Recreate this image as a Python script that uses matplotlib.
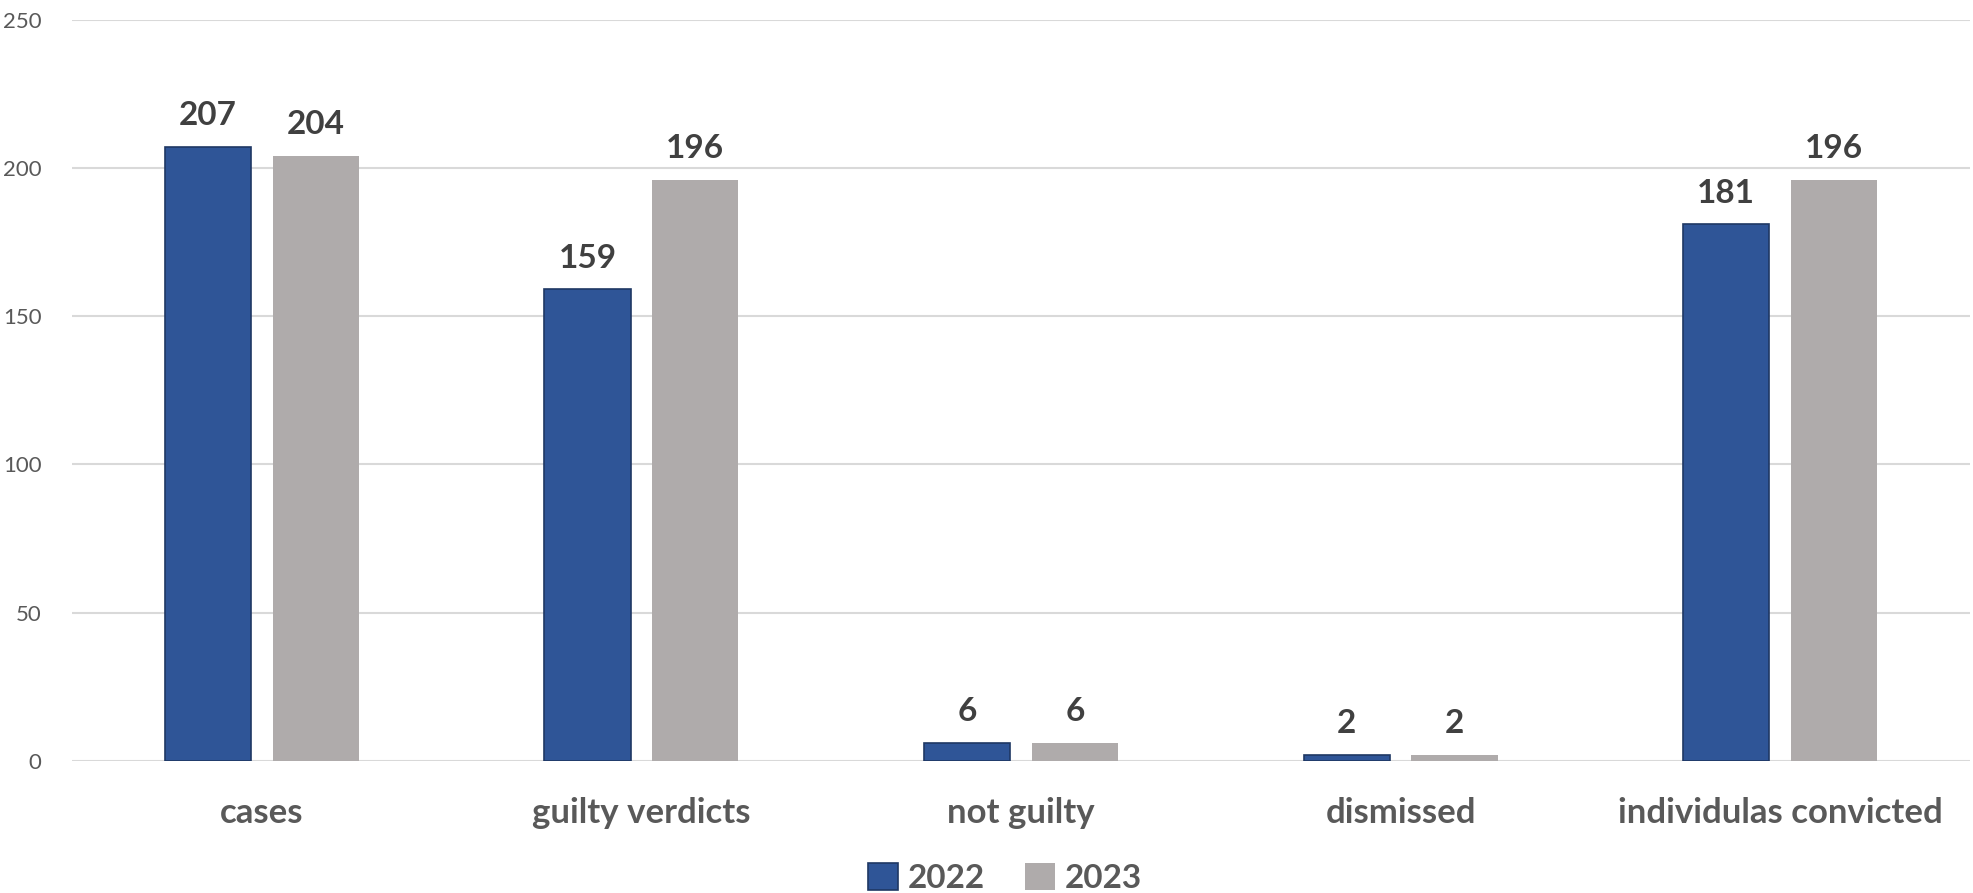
import matplotlib.pyplot as plt
import numpy as np

categories = ['cases', 'guilty verdicts', 'not guilty', 'dismissed', 'individulas convicted']
years = ['2022', '2023']
values_2022 = [207, 159, 6, 2, 181]
values_2023 = [204, 196, 6, 2, 196]
yticks = [0, 50, 100, 150, 200, 250]

plt.rcParams['font.family'] = ['Lato', 'DejaVu Sans']

fig = plt.figure(figsize=(19.74, 8.93), dpi=100)
ax = fig.add_axes([0.0365, 0.148, 0.9615, 0.830])

x = np.arange(len(categories))
width = 0.227
offset = 0.142

bars1 = ax.bar(x - offset, values_2022, width, color='#2F5597', edgecolor='#1F3864',
               linewidth=1.2, label=years[0], zorder=3)
bars2 = ax.bar(x + offset, values_2023, width, color='#AFABAB', edgecolor='#AFABAB',
               linewidth=0, label=years[1], zorder=3)

for bars in (bars1, bars2):
    for b in bars:
        ax.annotate(str(int(b.get_height())), (b.get_x() + b.get_width() / 2, b.get_height()),
                    xytext=(0, 12), textcoords='offset points', ha='center', va='bottom',
                    fontsize=24, fontweight='bold', color='#404040')

ax.set_xlim(-0.5, len(categories) - 0.5)
ax.set_ylim(0, 250)
ax.set_yticks(yticks)
ax.yaxis.grid(True, color='#D9D9D9', linewidth=1.5, zorder=0)
ax.set_axisbelow(True)
for s in ax.spines.values():
    s.set_visible(False)
ax.tick_params(axis='y', length=0, labelsize=16, labelcolor='#595959', pad=22)
ax.tick_params(axis='x', length=0, pad=26)
ax.set_xticks(x)
ax.set_xticklabels(categories, fontsize=25, fontweight='bold', color='#595959')

leg = fig.legend(loc='center', bbox_to_anchor=(0.509, 0.017), ncol=2, frameon=False,
                 fontsize=24, handlelength=0.9, handleheight=0.9, columnspacing=1.2,
                 handletextpad=0.3, prop={'weight': 'bold', 'size': 24})
for t in leg.get_texts():
    t.set_color('#595959')

fig.savefig('out.png', dpi=100)
